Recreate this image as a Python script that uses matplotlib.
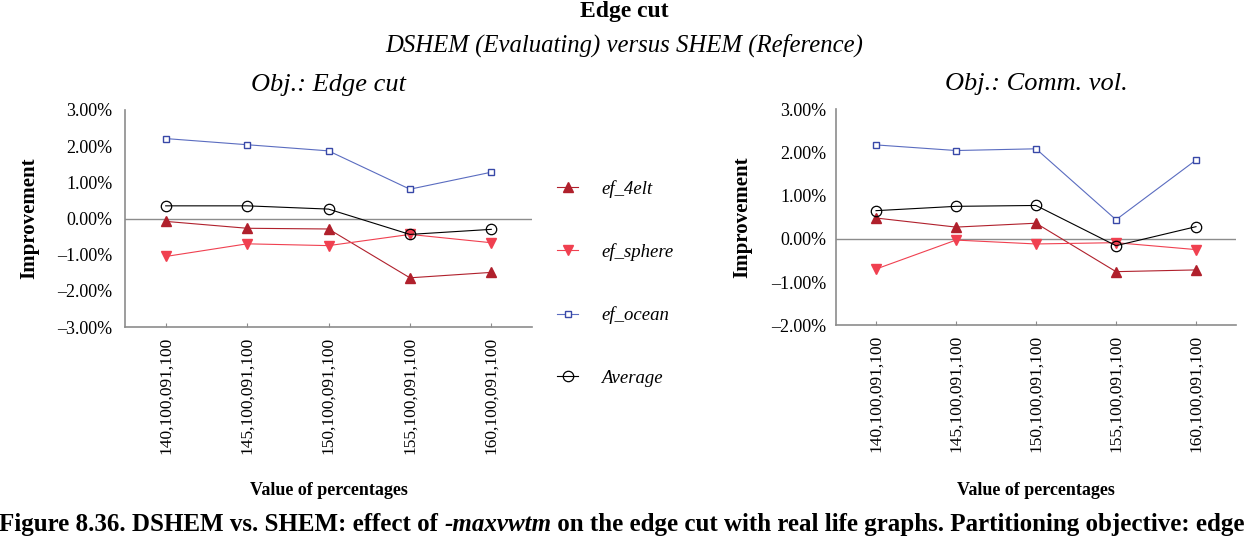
import matplotlib
matplotlib.use("Agg")
import matplotlib.pyplot as plt
from matplotlib.ticker import FuncFormatter, MultipleLocator

plt.rcParams['font.family'] = ['Liberation Serif', 'DejaVu Serif']

categories = ["140,100,091,100", "145,100,091,100", "150,100,091,100",
              "155,100,091,100", "160,100,091,100"]
series_names = ["ef_4elt", "ef_sphere", "ef_ocean", "Average"]

edge_4elt = [-0.08, -0.27, -0.29, -1.64, -1.49]
edge_sphere = [-1.05, -0.70, -0.75, -0.44, -0.67]
edge_ocean = [2.21, 2.04, 1.87, 0.81, 1.28]
edge_avg = [0.35, 0.35, 0.26, -0.44, -0.30]

comm_4elt = [0.48, 0.27, 0.36, -0.76, -0.72]
comm_sphere = [-0.70, -0.03, -0.12, -0.09, -0.25]
comm_ocean = [2.17, 2.04, 2.08, 0.44, 1.82]
comm_avg = [0.65, 0.75, 0.77, -0.16, 0.28]

styles = [
    dict(color='#B0202C', marker='^', markersize=7, mfc='#B0202C', mec='#B0202C'),
    dict(color='#F04050', marker='v', markersize=7, mfc='#F04050', mec='#F04050'),
    dict(color='#5A6CC0', marker='s', markersize=5, mfc='white', mec='#3848A8', mew=1.0),
    dict(color='black', marker='o', markersize=7.5, mfc='none', mec='black', mew=0.9),
]

W, H = 1248, 536
fig = plt.figure(figsize=(W/100, H/100), dpi=100)

def pct(v, pos):
    s = f"{abs(v):.2f}%"
    return ("\u2013" + s) if v < 0 else s

def make_axes(rect, data, ylim, title, ylab_x, xlab_y, ypad):
    ax = fig.add_axes(rect)
    x = list(range(len(categories)))
    handles = []
    for vals, st in zip(data, styles):
        h, = ax.plot(x, vals, lw=0.8, **st)
        handles.append(h)
    ax.axhline(0, color='#8c8c8c', lw=1.0, zorder=0)
    ax.set_xlim(-0.5, 4.5)
    ax.set_ylim(*ylim)
    ax.yaxis.set_major_locator(MultipleLocator(1))
    ax.yaxis.set_major_formatter(FuncFormatter(pct))
    ax.set_xticks(x)
    ax.set_xticklabels(categories, rotation=90, fontsize=12.5)
    for sp in ['top', 'right']:
        ax.spines[sp].set_visible(False)
    for sp in ['left', 'bottom']:
        ax.spines[sp].set_color('#8c8c8c')
        ax.spines[sp].set_linewidth(1.2)
    ax.tick_params(axis='y', length=0, labelsize=13, pad=ypad)
    ax.tick_params(axis='x', direction='in', length=3, color='#8c8c8c', pad=7)
    ax.set_ylabel("Improvement", fontsize=15, fontweight='bold')
    ax.yaxis.set_label_coords(ylab_x, 0.5)
    ax.set_xlabel("Value of percentages", fontsize=13, fontweight='bold', va='top')
    ax.xaxis.set_label_coords(0.5, xlab_y)
    ax.set_title(title, fontsize=19, style='italic', pad=14)
    return ax, handles

ax1, handles = make_axes([125/W, (H-327)/H, 407/W, 217/H],
                         [edge_4elt, edge_sphere, edge_ocean, edge_avg], (-3, 3),
                         "Obj.: Edge cut", -0.211, -0.714, 9)
ax2, _ = make_axes([836/W, (H-325.3)/H, 400/W, 216.3/H],
                   [comm_4elt, comm_sphere, comm_ocean, comm_avg], (-2, 3),
                   "Obj.: Comm. vol.", -0.21, -0.724, 7)

fig.text(0.5, 1 - 1/H, "Edge cut", ha='center', va='top', fontsize=17, fontweight='bold')
fig.text(0.5, 1 - 45/H, "DSHEM (Evaluating) versus SHEM (Reference)", ha='center', va='center',
         fontsize=17.8, style='italic')

leg = fig.legend(handles, series_names, loc='upper left', bbox_to_anchor=(540/W, 1 - 163/H),
                 frameon=False, labelspacing=2.42, handlelength=1.15, handletextpad=1.2,
                 prop=dict(size=13.5, style='italic'))

# caption (runs to the right edge, as in the reference)
fig.canvas.draw()
r = fig.canvas.get_renderer()
y_cap = 5/H
t1 = fig.text(-1/W, y_cap, "Figure 8.36. DSHEM vs. SHEM: effect of ", ha='left', va='baseline',
              fontsize=18, fontweight='bold')
bb = t1.get_window_extent(r)
t2 = fig.text(bb.x1/W, y_cap, "-maxvwtm", ha='left', va='baseline', fontsize=18,
              fontweight='bold', style='italic')
bb2 = t2.get_window_extent(r)
fig.text(bb2.x1/W, y_cap, " on the edge cut with real life graphs. Partitioning objective: edge",
         ha='left', va='baseline', fontsize=18, fontweight='bold')

fig.savefig("out.png", dpi=100)
